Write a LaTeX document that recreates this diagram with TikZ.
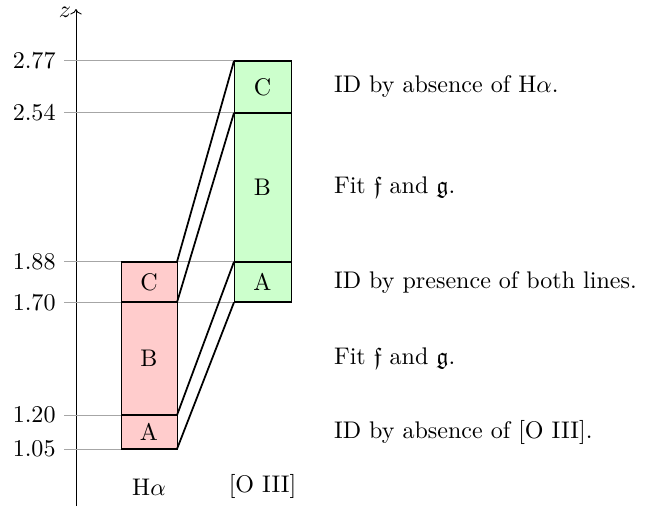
\documentclass[11pt,tikz,border=0pt]{standalone}
\usepackage{amsmath,amssymb}
\usetikzlibrary{arrows.meta,positioning,calc}

\begin{document}
\begin{tikzpicture}[x=1cm, y=3.61cm,
  level/.style={gray!70},
  haband/.style={fill=red!20, draw=black},
  oband/.style={fill=green!20, draw=black},
  edge/.style={thick},
  link/.style={thick}]
\useasboundingbox (0,0.797) rectangle (10.48,3.04);

% axis
\coordinate (zbot) at (1.216,0.797);
\coordinate (ztop) at (1.216,3.0);
\draw[->] (zbot) -- (ztop) node[left, yshift=-1.5pt, inner sep=2pt] {$z$};

% levels
\foreach \z/\xe in {2.77/3.744,2.54/3.744,1.88/3.744,1.70/3.744,1.20/1.936,1.05/1.936}
  \draw[level] (1.024,\z) node[left, black] {\z} -- (\xe,\z);

% H-alpha column
\filldraw[haband] (1.936,1.05) rectangle (2.832,1.88);
\foreach \z in {1.05,1.20,1.70,1.88}
  \draw[edge] (1.936,\z) -- (2.832,\z);
\node (haA) at (2.384,1.125) {A};
\node (haB) at (2.384,1.45) {B};
\node (haC) at (2.384,1.79) {C};
\node (ha) at (2.384,0.882) {H$\alpha$};

% [O III] column
\filldraw[oband] (3.744,1.70) rectangle (4.656,2.77);
\foreach \z in {1.70,1.88,2.54,2.77}
  \draw[edge] (3.744,\z) -- (4.656,\z);
\node (oA) at (4.2,1.79) {A};
\node (oB) at (4.2,2.21) {B};
\node (oC) at (4.2,2.655) {C};
\node (oiii) at (4.2,0.882) {[O III]};

% corners
\coordinate (h1) at (2.832,1.05);
\coordinate (h2) at (2.832,1.20);
\coordinate (h3) at (2.832,1.70);
\coordinate (h4) at (2.832,1.88);
\coordinate (o1) at (3.744,1.70);
\coordinate (o2) at (3.744,1.88);
\coordinate (o3) at (3.744,2.54);
\coordinate (o4) at (3.744,2.77);

\draw[link] (h1) -- (o1);
\draw[link] (h2) -- (o2);
\draw[link] (h3) -- (o3);
\draw[link] (h4) -- (o4);

% notes
\node[anchor=west] (n5) at (5.21,2.655) {ID by absence of H$\alpha$.};
\node[anchor=west] (n4) at (5.21,2.21) {Fit $\mathfrak{f}$ and $\mathfrak{g}$.};
\node[anchor=west] (n3) at (5.21,1.79) {ID by presence of both lines.};
\node[anchor=west] (n2) at (5.21,1.45) {Fit $\mathfrak{f}$ and $\mathfrak{g}$.};
\node[anchor=west] (n1) at (5.21,1.125) {ID by absence of [O III].};
\end{tikzpicture}
\end{document}
